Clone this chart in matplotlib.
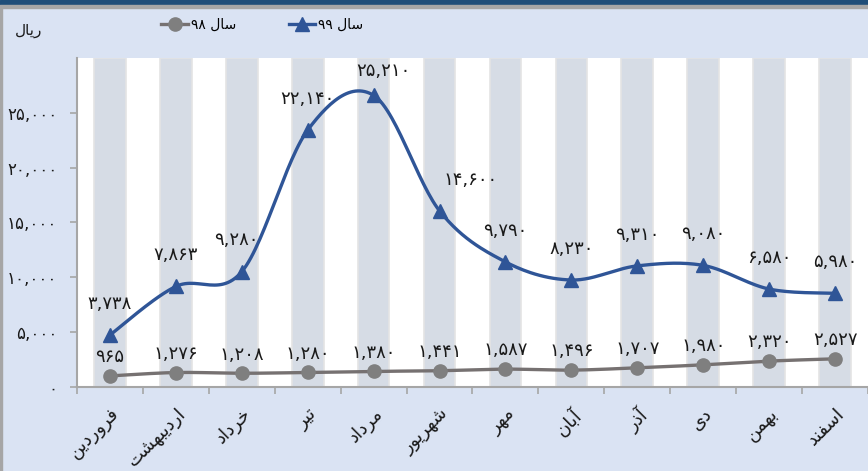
import matplotlib
matplotlib.use('Agg')
import matplotlib.pyplot as plt
import numpy as np
from matplotlib.lines import Line2D
from matplotlib.patches import Rectangle

months = ['فروردین', 'اردیبهشت', 'خرداد', 'تیر', 'مرداد', 'شهریور',
          'مهر', 'آبان', 'آذر', 'دی', 'بهمن', 'اسفند']
sales_98 = [965, 1276, 1208, 1280, 1380, 1441, 1587, 1496, 1707, 1980, 2320, 2527]
sales_99 = [3738, 7863, 9280, 22140, 25210, 14600, 9790, 8230, 9310, 9080, 6580, 5980]
y_ticks = [0, 5000, 10000, 15000, 20000, 25000]

# شکل حروف عربی/فارسی (matplotlib خودش حروف را به هم نمی چسباند)
FORMS = {
    'ا': ('\uFE8D', '\uFE8E', None, None),
    'آ': ('\uFE81', '\uFE82', None, None),
    'ب': ('\uFE8F', '\uFE90', '\uFE91', '\uFE92'),
    'ت': ('\uFE95', '\uFE96', '\uFE97', '\uFE98'),
    'خ': ('\uFEA5', '\uFEA6', '\uFEA7', '\uFEA8'),
    'د': ('\uFEA9', '\uFEAA', None, None),
    'ذ': ('\uFEAB', '\uFEAC', None, None),
    'ر': ('\uFEAD', '\uFEAE', None, None),
    'س': ('\uFEB1', '\uFEB2', '\uFEB3', '\uFEB4'),
    'ش': ('\uFEB5', '\uFEB6', '\uFEB7', '\uFEB8'),
    'ف': ('\uFED1', '\uFED2', '\uFED3', '\uFED4'),
    'ل': ('\uFEDD', '\uFEDE', '\uFEDF', '\uFEE0'),
    'م': ('\uFEE1', '\uFEE2', '\uFEE3', '\uFEE4'),
    'ن': ('\uFEE5', '\uFEE6', '\uFEE7', '\uFEE8'),
    'ه': ('\uFEE9', '\uFEEA', '\uFEEB', '\uFEEC'),
    'و': ('\uFEED', '\uFEEE', None, None),
    'ی': ('\uFBFC', '\uFBFD', '\uFBFE', '\uFBFF'),
}


def shape_word(word):
    out = []
    n = len(word)
    for i, c in enumerate(word):
        if c not in FORMS:
            out.append(c)
            continue
        iso, fin, ini, med = FORMS[c]
        prev_j = i > 0 and word[i - 1] in FORMS and FORMS[word[i - 1]][2] is not None
        next_j = i < n - 1 and word[i + 1] in FORMS and ini is not None
        if prev_j and next_j:
            out.append(med)
        elif prev_j:
            out.append(fin)
        elif next_j:
            out.append(ini)
        else:
            out.append(iso)
    return ''.join(reversed(out))


def rtl(text):
    parts = []
    for tok in text.split(' '):
        if any(ch in FORMS for ch in tok):
            parts.append(shape_word(tok))
        else:
            parts.append(tok)
    return ' '.join(reversed(parts))


FA_DIGITS = str.maketrans('0123456789', '۰۱۲۳۴۵۶۷۸۹')


def fa_num(v):
    return format(int(v), ',').translate(FA_DIGITS)


def smooth(x, y, steps=30):
    # منحنی نرم شبیه اکسل (Catmull-Rom)
    pts = np.column_stack([x, y]).astype(float)
    p = np.vstack([pts[0], pts, pts[-1]])
    xs, ys = [], []
    t = np.linspace(0, 1, steps)
    for i in range(1, len(p) - 2):
        p0, p1, p2, p3 = p[i - 1], p[i], p[i + 1], p[i + 2]
        c1 = p1 + (p2 - p0) / 6
        c2 = p2 - (p3 - p1) / 6
        seg = ((1 - t) ** 3)[:, None] * p1 + (3 * (1 - t) ** 2 * t)[:, None] * c1 \
            + (3 * (1 - t) * t ** 2)[:, None] * c2 + (t ** 3)[:, None] * p2
        xs.extend(seg[:, 0])
        ys.extend(seg[:, 1])
    return np.array(xs), np.array(ys)


plt.rcParams['font.family'] = ['DejaVu Sans']
blue = '#2F5597'
gray = '#7F7F7F'
bg = '#DAE3F3'
txt = '#1a1a1a'

fig = plt.figure(figsize=(8.68, 4.71), dpi=100, facecolor=bg)
ax = fig.add_axes([77 / 868, 1 - 386.5 / 471, 1 - 77 / 868, (386.5 - 58) / 471])
ax.set_facecolor('white')

x = np.arange(len(months))
stack_99 = np.array(sales_98) + np.array(sales_99)  # نمودار خطی انباشته

for i in x:
    ax.axvspan(i - 0.24, i + 0.24, color='#D6DCE5', ec='#E4E4E4', lw=1.2, zorder=0)

sx, sy = smooth(x, sales_98)
ax.plot(sx, sy, color='#767171', lw=2.4, zorder=2)
ax.plot(x, sales_98, 'o', color=gray, ms=9.5, zorder=3)
sx, sy = smooth(x, stack_99)
ax.plot(sx, sy, color=blue, lw=2.4, zorder=2)
ax.plot(x, stack_99, '^', color=blue, ms=9.5, zorder=3)

# جابجایی افقی برچسب ها
dx_99 = {2: -4, 4: 7, 5: 22}
for i in x:
    ax.annotate(fa_num(sales_98[i]), (i, sales_98[i]), xytext=(0, 7), textcoords='offset points',
                ha='center', va='bottom', fontsize=13, color=txt)
    off = 11 if stack_99[i] == stack_99.max() else 16
    ax.annotate(fa_num(sales_99[i]), (i, stack_99[i]), xytext=(dx_99.get(i, 0), off),
                textcoords='offset points', ha='center', va='bottom', fontsize=13, color=txt)

ax.set_xlim(-0.5, len(months) - 0.5)
ax.set_ylim(0, 30000)
ax.set_yticks(y_ticks)
ax.set_yticklabels([fa_num(v) for v in y_ticks], fontsize=12, color=txt)
ax.set_xticks(np.arange(-0.5, len(months), 1.0))
ax.set_xticklabels([])
ax.set_xticks(x, minor=True)
ax.set_xticklabels([rtl(m) for m in months], minor=True, rotation=45, ha='right', va='top',
                   rotation_mode='anchor', fontsize=13, color=txt)
ax.tick_params(axis='x', which='minor', length=0, pad=13)
ax.tick_params(axis='x', which='major', length=5, color='#A6A6A6', width=1.2)
ax.tick_params(axis='y', length=5, color='#A6A6A6', width=1.2, pad=9)
for s in ['top', 'right']:
    ax.spines[s].set_visible(False)
for s in ['left', 'bottom']:
    ax.spines[s].set_color('#A6A6A6')
    ax.spines[s].set_linewidth(1.5)

handles = [Line2D([], [], color='#767171', lw=2.4, marker='o', ms=9.5, mfc=gray, mec=gray),
           Line2D([], [], color=blue, lw=2.4, marker='^', ms=9.5)]
fig.legend(handles, [rtl('سال ۹۸'), rtl('سال ۹۹')], loc='center', bbox_to_anchor=(0.302, 0.947),
           ncol=2, frameon=False, fontsize=10, handlelength=1.9, columnspacing=3.8, handletextpad=0.2)

fig.text(29 / 868, 1 - 30 / 471, rtl('ریال'), ha='center', va='center', fontsize=11, color=txt)

# نوار بالا و حاشیه
fig.add_artist(Rectangle((0, 1 - 4 / 471), 1, 4 / 471, transform=fig.transFigure, color='#1F4E79'))
fig.add_artist(Rectangle((0, 1 - 8 / 471), 1, 3 / 471, transform=fig.transFigure, color='#A6A6A6'))
fig.add_artist(Rectangle((0, 0), 1.5 / 868, 1 - 8 / 471, transform=fig.transFigure, color='#A6A6A6'))

plt.savefig('out.png', dpi=100, facecolor=bg)
